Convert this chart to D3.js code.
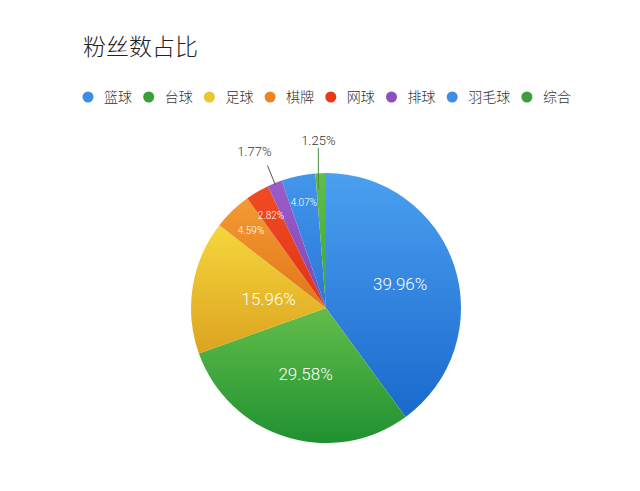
<!DOCTYPE html>
<html>
<head>
<meta charset="utf-8">
<script src="https://cdn.jsdelivr.net/npm/d3@7"></script>
<style>
  body { margin: 0; background: #fff; }
  svg { display: block; }
</style>
</head>
<body>
<div class="chart"></div>
<script>
var svgWidth = 640;
var svgHeight = 491;

// data
var categories = ["篮球", "台球", "足球", "棋牌", "网球", "排球", "羽毛球", "综合"];
var shares = [39.96, 29.58, 15.96, 4.59, 2.82, 1.77, 4.07, 1.25];
var labels = ["39.96%", "29.58%", "15.96%", "4.59%", "2.82%", "1.77%", "4.07%", "1.25%"];
var title = "粉丝数占比";

var topColors = ["#4ba0f0", "#63bd4a", "#f5d73c", "#f39b32", "#f14b24", "#9c5cc9", "#4396eb", "#62be47"];
var bottomColors = ["#1a69cd", "#1f9131", "#dca320", "#e1751b", "#e03315", "#7e48b3", "#2977d7", "#3aa536"];
var legendColors = ["#3b8ee4", "#3a9e3a", "#e8c62e", "#ec8424", "#e43a1a", "#8a50bd", "#3a8ee4", "#3e9e3c"];

var cx = 326, cy = 308, radius = 135;

var svg = d3.select(".chart")
  .append("svg")
  .attr("width", svgWidth)
  .attr("height", svgHeight);

var defs = svg.append("defs");

// one vertical gradient per slice
categories.forEach(function(c, i) {
  var g = defs.append("linearGradient")
    .attr("id", "grad" + i)
    .attr("x1", 0).attr("y1", 0)
    .attr("x2", 0).attr("y2", 1);
  g.append("stop").attr("offset", "0%").attr("stop-color", topColors[i]);
  g.append("stop").attr("offset", "100%").attr("stop-color", bottomColors[i]);
});

// title
svg.append("text")
  .attr("x", 83)
  .attr("y", 55)
  .attr("font-family", "'Noto Sans CJK SC', sans-serif")
  .attr("font-weight", 300)
  .attr("font-size", 23)
  .attr("fill", "#222")
  .text(title);

// legend, laid out from measured text widths
var legend = svg.append("g")
  .attr("font-family", "'Noto Sans CJK SC', sans-serif")
  .attr("font-weight", 300)
  .attr("font-size", 14)
  .attr("fill", "#333");

var lx = 88;
categories.forEach(function(c, i) {
  legend.append("circle")
    .attr("cx", lx)
    .attr("cy", 97)
    .attr("r", 5.5)
    .attr("fill", legendColors[i]);
  var t = legend.append("text")
    .attr("x", lx + 16)
    .attr("y", 102)
    .text(c);
  lx = lx + 16 + t.node().getComputedTextLength() + 16.7;
});

// pie
var pie = d3.pie().sort(null).value(d => d.value);
var pieData = pie(categories.map((c, i) => ({ name: c, value: shares[i], label: labels[i], i: i })));

var arc = d3.arc().innerRadius(0).outerRadius(radius);

var chartGroup = svg.append("g")
  .attr("transform", `translate(${cx}, ${cy})`);

chartGroup.selectAll("path.slice")
  .data(pieData)
  .enter()
  .append("path")
  .attr("class", "slice")
  .attr("d", arc)
  .attr("fill", d => `url(#grad${d.data.i})`);

// where the labels go: big slices nearer the middle, small ones near the rim
var bigLabelR = d3.scaleLinear().domain([15.96, 39.96]).range([58, 78]);

function pointAt(a, r) {
  return [Math.sin(a) * r, -Math.cos(a) * r];
}

pieData.forEach(function(d) {
  var mid = (d.startAngle + d.endAngle) / 2;
  var v = d.data.value;
  if (v > 10) {
    var p = pointAt(mid, bigLabelR(v));
    chartGroup.append("text")
      .attr("x", p[0]).attr("y", p[1])
      .attr("dy", "0.35em")
      .attr("text-anchor", "middle")
      .attr("font-family", "Roboto, sans-serif")
      .attr("font-weight", 300)
      .attr("font-size", 17)
      .attr("fill", "#fff")
      .text(d.data.label);
  } else if (v > 2) {
    var p2 = pointAt(mid, radius * 0.8);
    chartGroup.append("text")
      .attr("x", p2[0]).attr("y", p2[1])
      .attr("dy", "0.35em")
      .attr("text-anchor", "middle")
      .attr("font-family", "Roboto, sans-serif")
      .attr("font-weight", 300)
      .attr("font-size", 10)
      .attr("fill", "#fff")
      .text(d.data.label);
  } else if (d.data.name === "排球") {
    // radial leader line
    var a = pointAt(mid, radius - 2);
    var b = pointAt(mid, radius + 19);
    chartGroup.append("line")
      .attr("x1", a[0]).attr("y1", a[1])
      .attr("x2", b[0]).attr("y2", b[1])
      .attr("stroke", "#555")
      .attr("stroke-width", 1);
    var p3 = pointAt(mid - 0.04, radius + 37);
    chartGroup.append("text")
      .attr("x", p3[0]).attr("y", p3[1])
      .attr("dy", "0.35em")
      .attr("text-anchor", "middle")
      .attr("font-family", "Roboto, sans-serif")
      .attr("font-weight", 300)
      .attr("font-size", 13)
      .attr("fill", "#333")
      .text(d.data.label);
  } else {
    // vertical leader line
    var e = pointAt(mid, radius * 0.88);
    chartGroup.append("line")
      .attr("x1", e[0] - 3).attr("y1", e[1])
      .attr("x2", e[0] - 3).attr("y2", -radius - 25)
      .attr("stroke", "#4a8a44")
      .attr("stroke-width", 1);
    chartGroup.append("text")
      .attr("x", e[0] - 3).attr("y", -radius - 33)
      .attr("dy", "0.35em")
      .attr("text-anchor", "middle")
      .attr("font-family", "Roboto, sans-serif")
      .attr("font-weight", 300)
      .attr("font-size", 13)
      .attr("fill", "#333")
      .text(d.data.label);
  }
});
</script>
</body>
</html>
